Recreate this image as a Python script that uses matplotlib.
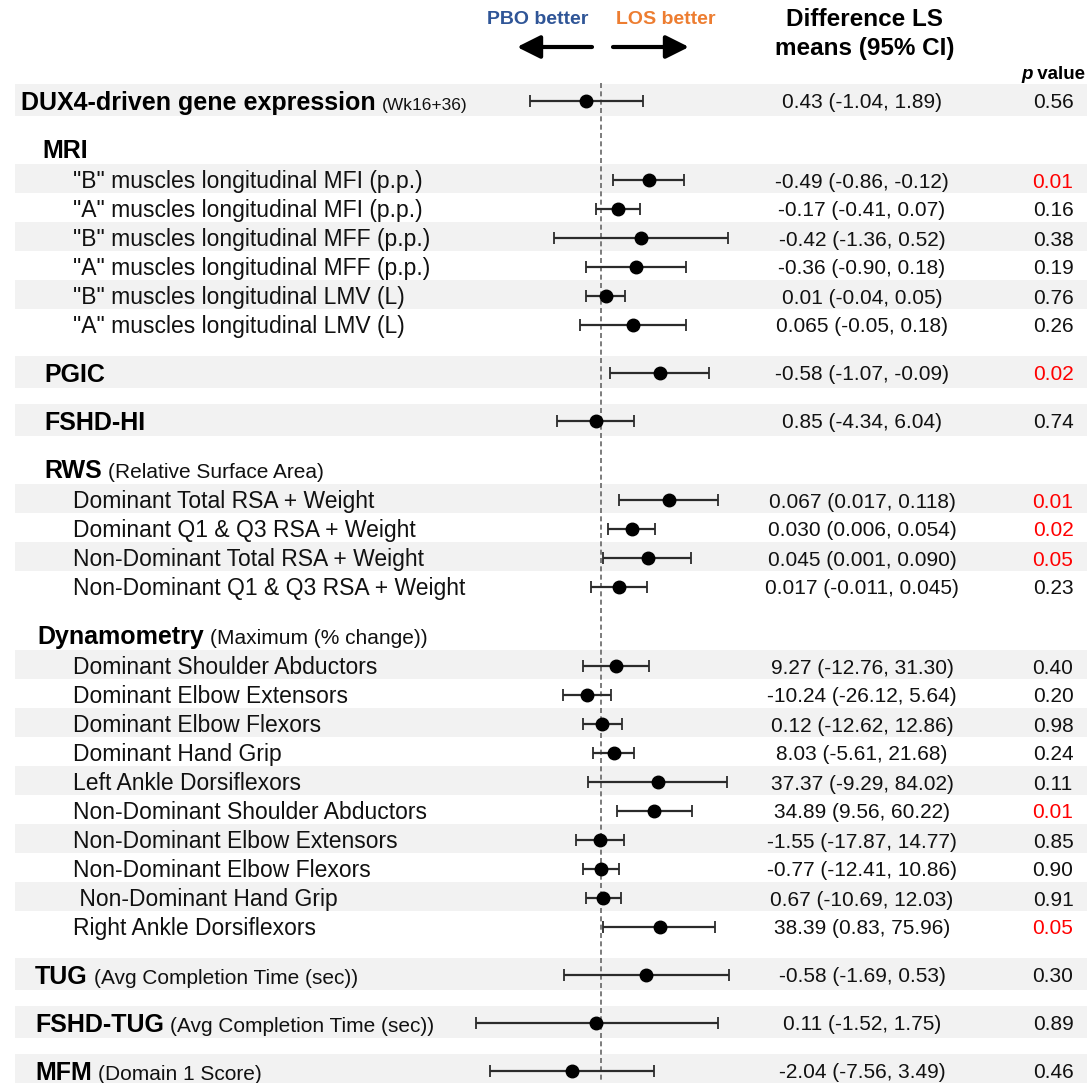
import matplotlib
matplotlib.use('Agg')
import matplotlib.pyplot as plt
import numpy as np

plt.rcParams['font.family'] = ['Liberation Sans', 'DejaVu Sans']

# Linhas do gráfico, de cima para baixo
row_labels = [
    'DUX4-driven gene expression',
    'MRI',
    '"B" muscles longitudinal MFI (p.p.)',
    '"A" muscles longitudinal MFI (p.p.)',
    '"B" muscles longitudinal MFF (p.p.)',
    '"A" muscles longitudinal MFF (p.p.)',
    '"B" muscles longitudinal LMV (L)',
    '"A" muscles longitudinal LMV (L)',
    'PGIC',
    'FSHD-HI',
    'RWS',
    'Dominant Total RSA + Weight',
    'Dominant Q1 & Q3 RSA + Weight',
    'Non-Dominant Total RSA + Weight',
    'Non-Dominant Q1 & Q3 RSA + Weight',
    'Dynamometry',
    'Dominant Shoulder Abductors',
    'Dominant Elbow Extensors',
    'Dominant Elbow Flexors',
    'Dominant Hand Grip',
    'Left Ankle Dorsiflexors',
    'Non-Dominant Shoulder Abductors',
    'Non-Dominant Elbow Extensors',
    'Non-Dominant Elbow Flexors',
    ' Non-Dominant Hand Grip',
    'Right Ankle Dorsiflexors',
    'TUG',
    'FSHD-TUG',
    'MFM',
]
row_notes = ['(Wk16+36)', '', '', '', '', '', '', '', '', '',
             '(Relative Surface Area)', '', '', '', '',
             '(Maximum (% change))', '', '', '', '', '', '', '', '', '', '',
             '(Avg Completion Time (sec))', '(Avg Completion Time (sec))',
             '(Domain 1 Score)']
row_kinds = (['main', 'head'] + ['sub'] * 6 + ['main', 'main', 'head'] + ['sub'] * 4
             + ['head'] + ['sub'] * 10 + ['main', 'main', 'main'])

# Efeito padronizado plotado (ponto e IC 95%) - linhas com dados
effect = [-0.15, 0.48, 0.17, 0.40, 0.35, 0.05, 0.32, 0.59, -0.05,
          0.68, 0.31, 0.47, 0.18,
          0.15, -0.14, 0.01, 0.13, 0.57, 0.53, -0.01, 0.00, 0.02, 0.59,
          0.45, -0.05, -0.29]
effect_lo = [-0.71, 0.12, -0.05, -0.47, -0.15, -0.15, -0.21, 0.09, -0.44,
             0.18, 0.07, 0.02, -0.10,
             -0.18, -0.38, -0.18, -0.08, -0.13, 0.16, -0.25, -0.18, -0.15, 0.02,
             -0.37, -1.25, -1.11]
effect_hi = [0.42, 0.83, 0.39, 1.27, 0.85, 0.24, 0.85, 1.08, 0.33,
             1.17, 0.54, 0.90, 0.46,
             0.48, 0.10, 0.21, 0.33, 1.26, 0.91, 0.23, 0.18, 0.20, 1.14,
             1.28, 1.17, 0.53]

ci_text = ['0.43 (-1.04, 1.89)',
           '-0.49 (-0.86, -0.12)', '-0.17 (-0.41, 0.07)', '-0.42 (-1.36, 0.52)',
           '-0.36 (-0.90, 0.18)', '0.01 (-0.04, 0.05)', '0.065 (-0.05, 0.18)',
           '-0.58 (-1.07, -0.09)', '0.85 (-4.34, 6.04)',
           '0.067 (0.017, 0.118)', '0.030 (0.006, 0.054)', '0.045 (0.001, 0.090)',
           '0.017 (-0.011, 0.045)',
           '9.27 (-12.76, 31.30)', '-10.24 (-26.12, 5.64)', '0.12 (-12.62, 12.86)',
           '8.03 (-5.61, 21.68)', '37.37 (-9.29, 84.02)', '34.89 (9.56, 60.22)',
           '-1.55 (-17.87, 14.77)', '-0.77 (-12.41, 10.86)', '0.67 (-10.69, 12.03)',
           '38.39 (0.83, 75.96)',
           '-0.58 (-1.69, 0.53)', '0.11 (-1.52, 1.75)', '-2.04 (-7.56, 3.49)']
p_text = ['0.56', '0.01', '0.16', '0.38', '0.19', '0.76', '0.26', '0.02', '0.74',
          '0.01', '0.02', '0.05', '0.23',
          '0.40', '0.20', '0.98', '0.24', '0.11', '0.01', '0.85', '0.90', '0.91', '0.05',
          '0.30', '0.89', '0.46']

# Layout (pixels)
W, H = 1087, 1083
x_zero = 601
px_per_unit = 100
header_x = {'DUX4-driven gene expression': 21, 'MRI': 42, 'PGIC': 44, 'FSHD-HI': 44,
            'RWS': 44, 'Dynamometry': 37, 'TUG': 35, 'FSHD-TUG': 35, 'MFM': 35}
sub_x = 73
ci_x = 862
p_x = 1053
band_color = '#f2f2f2'

# posição vertical de cada linha
ys = []
y = 101
prev = None
for kind in row_kinds:
    if prev is not None:
        if prev == 'head':
            y += 31
        elif prev == 'sub' and kind == 'sub':
            y += 29
        else:
            y += 48
    ys.append(y)
    prev = kind

fig = plt.figure(figsize=(W / 100, H / 100), dpi=100)
ax_bg = fig.add_axes([0, 0, 1, 1])
ax_bg.set_xlim(0, W)
ax_bg.set_ylim(H, 0)
ax_bg.axis('off')

# faixas cinza
sub_count = 0
for kind, yy in zip(row_kinds, ys):
    if kind == 'main':
        ax_bg.axhspan(yy - 17, yy + 15, xmin=15 / W, xmax=1, color=band_color, lw=0, zorder=0)
        sub_count = 0
    elif kind == 'head':
        sub_count = 0
    else:
        if sub_count % 2 == 0:
            ax_bg.axhspan(yy - 16, yy + 13, xmin=15 / W, xmax=1, color=band_color, lw=0, zorder=0)
        sub_count += 1

# rótulos
data_y = []
for label, note, kind, yy in zip(row_labels, row_notes, row_kinds, ys):
    if kind == 'sub':
        ax_bg.text(sub_x, yy + 8.3, label, fontsize=16.5, va='baseline', ha='left', color='#111111')
    else:
        t = ax_bg.text(header_x[label], yy + 9, label, fontsize=18, fontweight='bold',
                       va='baseline', ha='left', color='black')
        if note:
            fs = 12.5 if kind == 'main' and label.startswith('DUX4') else 15
            ax_bg.annotate(note, xy=(1, yy + 9), xycoords=(t, 'data'), xytext=(6, 0),
                           textcoords='offset pixels', fontsize=fs, va='baseline',
                           ha='left', color='#111111')
    if kind != 'head':
        data_y.append(yy)

for yy, ci, p in zip(data_y, ci_text, p_text):
    ax_bg.text(ci_x, yy + 7.5, ci, fontsize=15, ha='center', va='baseline', color='#111111')
    cor = '#ff0000' if float(p) <= 0.05 else '#111111'
    ax_bg.text(p_x, yy + 7.5, p, fontsize=15, ha='center', va='baseline', color=cor)

# cabeçalho
ax_bg.text(538, 20, 'PBO better', fontsize=14, fontweight='bold', color='#2f5597',
           ha='center', va='center')
ax_bg.text(666, 20, 'LOS better', fontsize=14, fontweight='bold', color='#ed7d31',
           ha='center', va='center')
ax_bg.annotate('', xy=(517, 47), xytext=(592, 47),
               arrowprops=dict(arrowstyle='-|>,head_length=0.7,head_width=0.35',
                               lw=3, color='black', shrinkA=0, shrinkB=0, mutation_scale=20))
ax_bg.annotate('', xy=(689, 47), xytext=(613, 47),
               arrowprops=dict(arrowstyle='-|>,head_length=0.7,head_width=0.35',
                               lw=3, color='black', shrinkA=0, shrinkB=0, mutation_scale=20))
ax_bg.text(864, 19, 'Difference LS', fontsize=17.5, fontweight='bold', ha='center', va='center')
ax_bg.text(865, 48, 'means (95% CI)', fontsize=17.5, fontweight='bold', ha='center', va='center')
tp = ax_bg.text(1021, 79, 'p', fontsize=13.5, fontweight='bold', fontstyle='italic',
                ha='left', va='baseline')
ax_bg.annotate(' value', xy=(1, 79), xycoords=(tp, 'data'), fontsize=13.5,
               fontweight='bold', ha='left', va='baseline')

# forest plot
ax = fig.add_axes([0, 0, 1, 1])
ax.set_xlim(-x_zero / px_per_unit, (W - x_zero) / px_per_unit)
ax.set_ylim(H, 0)
ax.axis('off')

effect = np.array(effect)
effect_lo = np.array(effect_lo)
effect_hi = np.array(effect_hi)
ax.vlines(0, 83, H, colors='#666666', linestyles=(0, (3, 2)), lw=1.2, zorder=1)
ax.errorbar(effect, data_y, xerr=[effect - effect_lo, effect_hi - effect],
            fmt='o', color='black', markersize=9, ecolor='#2b2b2b',
            elinewidth=1.6, capsize=4, capthick=1.3, zorder=3)

fig.savefig('out.png', dpi=100)
